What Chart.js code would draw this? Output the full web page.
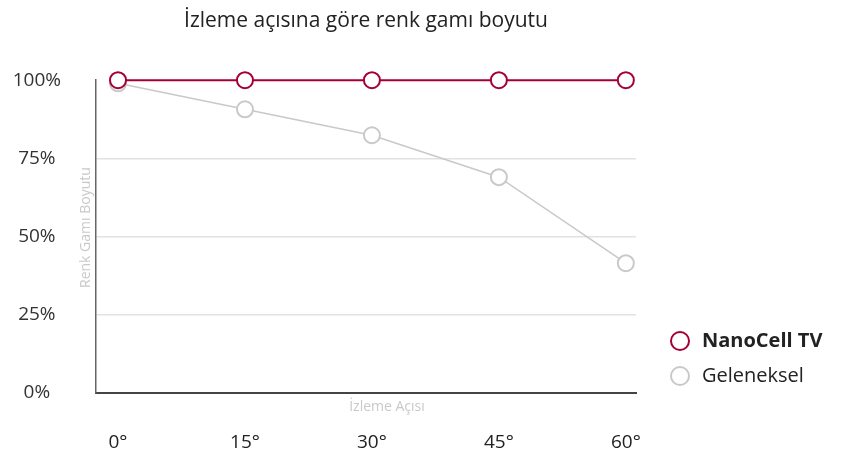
<!DOCTYPE html>
<html>
<head>
<meta charset="utf-8">
<script src="https://cdn.jsdelivr.net/npm/chart.js@4"></script>
<style>
  html, body { margin: 0; padding: 0; background: #fff; }
  #wrap { width: 844px; height: 451px; }
</style>
</head>
<body>
<div id="wrap"><canvas id="gamut"></canvas></div>
<script>
const angles = [0, 15, 30, 45, 60];
const nanoCell = [100, 100, 100, 100, 100];
const conventional = [99, 90.7, 82.4, 69, 41.5];
const yTicks = [0, 25, 50, 75, 100];
const seriesNames = ["NanoCell TV", "Geleneksel"];

const RED = "#a50034";
const GREY = "#c9c9c9";

Chart.defaults.font.family = "Open Sans";
Chart.defaults.color = "#333";

// axis titles sit between ticks and the axis line in the original
const axisTitles = {
    id: "axisTitles",
    afterDraw(chart) {
        const c = chart.ctx, a = chart.chartArea;
        c.save();
        c.fillStyle = GREY;
        c.font = "14px 'Open Sans'";
        c.textAlign = "center";
        c.textBaseline = "middle";
        c.fillText("İzleme Açısı", (a.left + a.right) / 2 + 21, a.bottom + 14);
        c.translate(a.left - 10, (a.top + a.bottom) / 2 - 9);
        c.rotate(-Math.PI / 2);
        c.fillText("Renk Gamı Boyutu", 0, 0);
        c.restore();
    },
};

const sideLegend = {
    id: "sideLegend",
    afterDraw(chart) {
        const c = chart.ctx, a = chart.chartArea;
        c.save();
        chart.data.datasets.forEach((ds, i) => {
            const y = a.bottom - 52 + i * 35;
            c.beginPath();
            c.arc(a.right + 44, y, 9, 0, Math.PI * 2);
            c.fillStyle = "#fff";
            c.fill();
            c.lineWidth = 2;
            c.strokeStyle = ds.borderColor;
            c.stroke();
            c.fillStyle = "#222";
            c.font = (i === 0 ? "bold " : "") + "20px 'Open Sans'";
            c.textAlign = "left";
            c.textBaseline = "middle";
            c.fillText(ds.label, a.right + 66, y);
        });
        c.restore();
    },
};

new Chart(document.getElementById("gamut"), {
    type: "line",
    data: {
        datasets: [
            {
                label: seriesNames[0],
                data: angles.map((a, i) => ({ x: a, y: nanoCell[i] })),
                borderColor: RED,
                backgroundColor: "#fff",
                borderWidth: 2,
                pointRadius: 8,
                pointBorderWidth: 2,
                pointBackgroundColor: "#fff",
                clip: false,
            },
            {
                label: seriesNames[1],
                data: angles.map((a, i) => ({ x: a, y: conventional[i] })),
                borderColor: GREY,
                backgroundColor: "#fff",
                borderWidth: 1.5,
                pointRadius: 8,
                pointBorderWidth: 2,
                pointBackgroundColor: "#fff",
                clip: false,
            },
        ],
    },
    options: {
        responsive: true,
        maintainAspectRatio: false,
        animation: false,
        layout: {
            padding: { left: 0, right: 208, top: 0, bottom: 0 },
        },
        plugins: {
            legend: { display: false },
            tooltip: { enabled: false },
            title: {
                display: true,
                text: "İzleme açısına göre renk gamı boyutu",
                fullSize: false,
                color: "#222",
                font: { size: 21, weight: "normal" },
                padding: { top: 8, bottom: 47 },
            },
        },
        scales: {
            x: {
                type: "linear",
                min: -2.6,
                max: 61.2,
                afterBuildTicks: (axis) => {
                    axis.ticks = angles.map((v) => ({ value: v }));
                },
                afterFit: (axis) => {
                    axis.height = 58;
                },
                grid: { display: false },
                border: { color: "#444", width: 2 },
                ticks: {
                    padding: 30,
                    color: "#222",
                    font: { size: 19 },
                    callback: (v) => v + "°",
                },
            },
            y: {
                min: 0,
                max: 100,
                afterBuildTicks: (axis) => {
                    axis.ticks = yTicks.map((v) => ({ value: v }));
                },
                afterFit: (axis) => {
                    axis.width = 96;
                },
                grid: {
                    drawTicks: false,
                    color: (ctx) =>
                        ctx.tick && (ctx.tick.value === 0 || ctx.tick.value === 100)
                            ? "rgba(0,0,0,0)"
                            : "#e2e2e2",
                    lineWidth: 1.5,
                },
                border: { color: "#666", width: 1.5 },
                ticks: {
                    padding: 35,
                    crossAlign: "center",
                    color: "#333",
                    font: { size: 19 },
                    callback: (v) => v + "%",
                },
            },
        },
    },
    plugins: [axisTitles, sideLegend],
});
</script>
</body>
</html>
